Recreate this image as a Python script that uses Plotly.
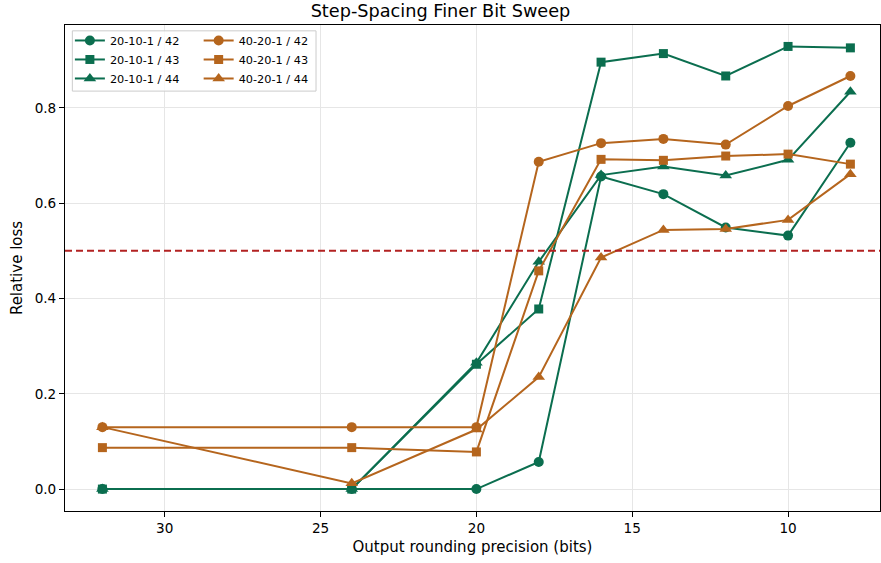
import plotly.graph_objects as go

bits = [32, 24, 20, 18, 16, 14, 12, 10, 8]

g42 = [0.000, 0.000, 0.000, 0.057, 0.656, 0.619, 0.549, 0.532, 0.727]
g43 = [0.000, 0.000, 0.262, 0.378, 0.896, 0.914, 0.867, 0.929, 0.926]
g44 = [0.000, 0.000, 0.265, 0.477, 0.659, 0.677, 0.658, 0.691, 0.834]
o42 = [0.130, 0.130, 0.130, 0.687, 0.726, 0.735, 0.723, 0.804, 0.867]
o43 = [0.087, 0.087, 0.078, 0.458, 0.692, 0.690, 0.699, 0.703, 0.682]
o44 = [0.130, 0.012, 0.125, 0.235, 0.486, 0.544, 0.546, 0.565, 0.661]

threshold = 0.5
x_ticks = [30, 25, 20, 15, 10]
y_ticks = [0.0, 0.2, 0.4, 0.6, 0.8]

GREEN = "#0b6e4f"
ORANGE = "#b5651d"

series = [
    ("20-10-1 / 42", g42, GREEN, "circle", 10, "legend"),
    ("20-10-1 / 43", g43, GREEN, "square", 9, "legend"),
    ("20-10-1 / 44", g44, GREEN, "triangle-up", 11, "legend"),
    ("40-20-1 / 42", o42, ORANGE, "circle", 10, "legend2"),
    ("40-20-1 / 43", o43, ORANGE, "square", 9, "legend2"),
    ("40-20-1 / 44", o44, ORANGE, "triangle-up", 11, "legend2"),
]

fig = go.Figure()
for name, vals, col, sym, sz, leg in series:
    fig.add_trace(go.Scatter(
        x=bits, y=vals, name=name, mode="lines+markers",
        line=dict(color=col, width=2),
        marker=dict(symbol=sym, size=sz, color=col),
        legend=leg,
    ))

fig.add_shape(type="line", xref="paper", yref="y", x0=0, x1=1, y0=threshold, y1=threshold,
              line=dict(color="#b22222", width=2, dash="7px,4px"), layer="above")

# legend frame
fig.add_shape(type="rect", xref="paper", yref="paper", x0=0.009, x1=0.308, y0=0.864, y1=0.988,
              line=dict(color="#cccccc", width=1), fillcolor="rgba(255,255,255,0.8)", layer="above")

font = "DejaVu Sans, sans-serif"
legstyle = dict(bgcolor="rgba(0,0,0,0)", borderwidth=0, font=dict(size=11.3, family=font, color="black"),
                yanchor="top", y=0.998, xanchor="left", tracegroupgap=0, itemwidth=30)

fig.update_layout(
    width=881, height=563,
    margin=dict(l=65, r=1, t=25, b=52),
    paper_bgcolor="white", plot_bgcolor="white",
    title=dict(text="Step-Spacing Finer Bit Sweep", x=0.5, xanchor="center", y=0.991, yanchor="top",
               font=dict(size=17.7, family=font, color="black")),
    font=dict(family=font, color="black"),
    legend=dict(x=0.006, **legstyle),
    legend2=dict(x=0.164, **legstyle),
    xaxis=dict(range=[33.2, 7.05], tickvals=x_ticks, ticktext=[str(v) for v in x_ticks],
               title=dict(text="Output rounding precision (bits)", font=dict(size=15), standoff=6),
               tickfont=dict(size=13.6), ticks="outside", ticklen=5, tickcolor="black",
               showgrid=True, gridcolor="#e6e6e6", gridwidth=1, automargin=False,
               showline=True, linecolor="black", linewidth=1, mirror=True, zeroline=False),
    yaxis=dict(range=[-0.046, 0.974], tickvals=y_ticks, ticktext=[f"{v:.1f}" for v in y_ticks],
               title=dict(text="Relative loss", font=dict(size=15), standoff=8),
               tickfont=dict(size=13.6), ticks="outside", ticklen=5, tickcolor="black",
               showgrid=True, gridcolor="#e6e6e6", gridwidth=1, automargin=False,
               showline=True, linecolor="black", linewidth=1, mirror=True, zeroline=False),
)

fig.write_html("out.html", config={"displayModeBar": False},
               post_script="document.body.style.margin='0';document.body.style.padding='0';")
